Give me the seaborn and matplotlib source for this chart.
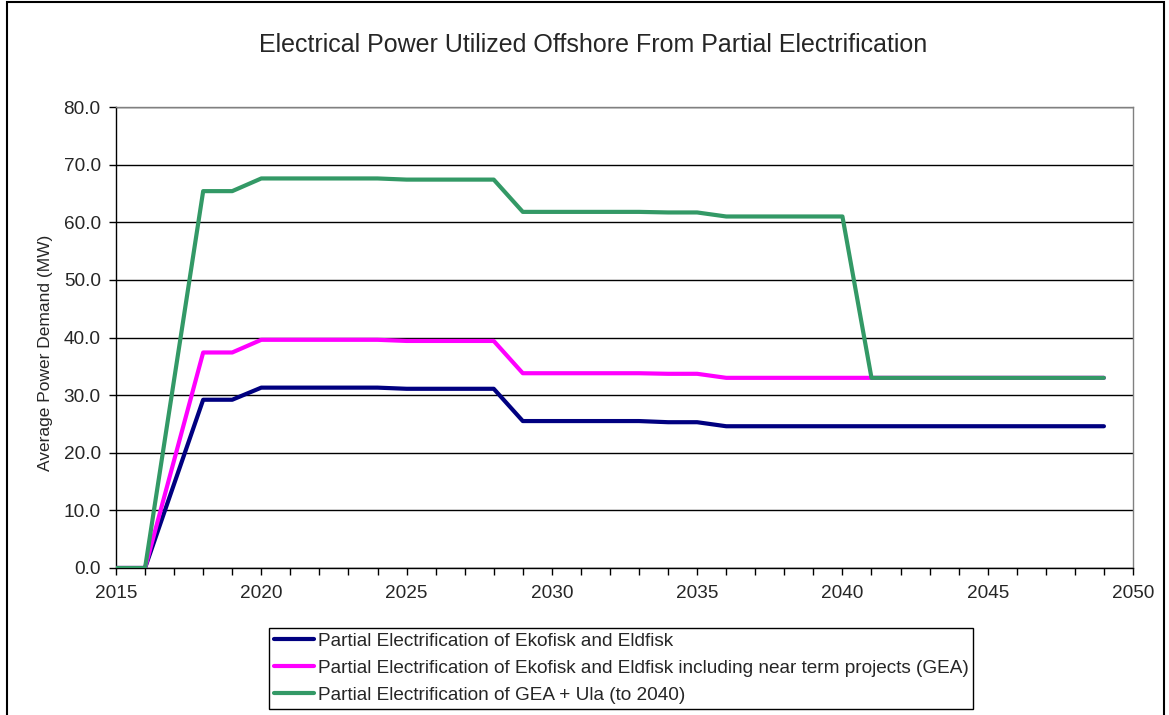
import pandas as pd
import seaborn as sns
import matplotlib.pyplot as plt
from matplotlib.ticker import MultipleLocator, FormatStrFormatter
from matplotlib.patches import Rectangle

# Datos (MW por año)
years = list(range(2015, 2050))
ekofisk = [0, 0, 14.6, 29.2, 29.2] + [31.3] * 5 + [31.1] * 4 + [25.5] * 5 + [25.3] * 2 + [24.6] * 14
gea = [0, 0, 18.7, 37.4, 37.4] + [39.6] * 5 + [39.4] * 4 + [33.8] * 5 + [33.7] * 2 + [33.0] * 14
gea_ula = [0, 0, 32.7, 65.4, 65.4] + [67.6] * 5 + [67.4] * 4 + [61.8] * 5 + [61.7] * 2 + [61.0] * 5 + [33.0] * 9

series_names = [
    "Partial Electrification of Ekofisk and Eldfisk",
    "Partial Electrification of Ekofisk and Eldfisk including near term projects (GEA)",
    "Partial Electrification of GEA + Ula (to 2040)",
]
colors = ["#000080", "#FF00FF", "#339966"]

df = pd.concat([
    pd.DataFrame({"Year": years, "MW": vals, "Serie": name})
    for name, vals in zip(series_names, [ekofisk, gea, gea_ula])
])

sns.set_style("white")
plt.rcParams['font.family'] = ['Liberation Sans', 'DejaVu Sans']

fig = plt.figure(figsize=(11.69, 7.15), dpi=100)
ax = fig.add_axes([116 / 1169, 1 - 568 / 715, 1017 / 1169, 461 / 715])

sns.lineplot(data=df, x="Year", y="MW", hue="Serie", hue_order=series_names,
             palette=dict(zip(series_names, colors)), linewidth=3, ax=ax, zorder=3)

ax.set_xlim(2015, 2050)
ax.set_ylim(0, 80)
ax.xaxis.set_major_locator(MultipleLocator(5))
ax.xaxis.set_minor_locator(MultipleLocator(1))
ax.yaxis.set_major_locator(MultipleLocator(10))
ax.yaxis.set_major_formatter(FormatStrFormatter('%.1f'))
ax.tick_params(axis='both', which='both', direction='out', length=5, width=1,
               color='black', labelsize=13.7, bottom=True, left=True)
ax.tick_params(axis='x', pad=7)
ax.tick_params(axis='y', pad=6)
ax.grid(True, axis='y', color='black', linewidth=1)
ax.set_axisbelow(True)

ax.set_xlabel("")
ax.set_ylabel("Average Power Demand (MW)", fontsize=12.5)
ax.yaxis.set_label_coords(-0.062, 0.466)
ax.spines['left'].set_color('black')
ax.spines['bottom'].set_color('black')
ax.spines['top'].set_color('#808080')
ax.spines['right'].set_color('#808080')
for s in ax.spines.values():
    s.set_linewidth(1)

fig.text(0.507, 1 - 45 / 715, "Electrical Power Utilized Offshore From Partial Electrification",
         ha='center', va='center', fontsize=18)

handles, labels = ax.get_legend_handles_labels()
ax.legend_.remove()
leg = fig.legend(handles, labels, loc='upper left',
                 bbox_to_anchor=(269 / 1169, 1 - 628 / 715), fontsize=13.7,
                 frameon=True, fancybox=False, edgecolor='black', framealpha=1,
                 handlelength=2.1, handletextpad=0.2, labelspacing=0.5,
                 borderpad=0.25, borderaxespad=0)
leg.get_frame().set_linewidth(1)

# marco exterior del grafico
fig.patches.append(Rectangle((7 / 1169, -0.05), (1164 - 7) / 1169, 1.05 - 2 / 715,
                             transform=fig.transFigure, fill=False,
                             edgecolor='black', linewidth=1.5))

plt.savefig("out.png", dpi=100)
